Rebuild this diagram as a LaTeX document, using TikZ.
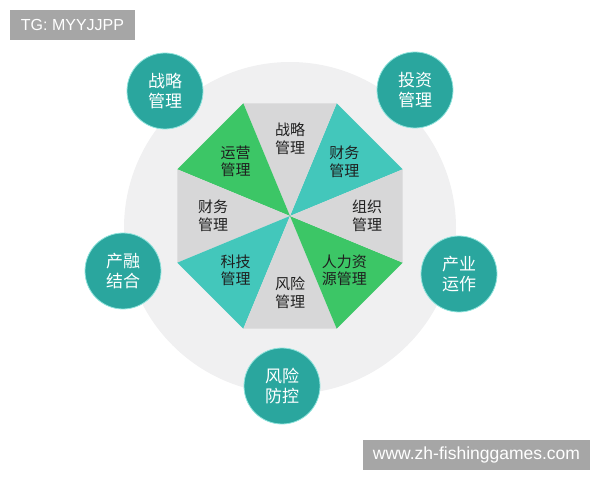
\documentclass[tikz,border=0pt]{standalone}
\usepackage{fontspec}
\setmainfont{Liberation Sans}
\newfontfamily\cjk{Noto Sans CJK SC}
\usetikzlibrary{calc}
\usetikzlibrary{positioning}

\definecolor{bgring}{HTML}{F0F0F1}
\definecolor{tealdark}{HTML}{2AA69E}
\definecolor{tealedge}{HTML}{8FE3DC}
\definecolor{tealslice}{HTML}{43C7BB}
\definecolor{greenslice}{HTML}{3CC666}
\definecolor{grayslice}{HTML}{D7D7D8}
\definecolor{tagbox}{HTML}{A6A6A6}
\definecolor{slicetext}{HTML}{1F1F1F}

\begin{document}
\begin{tikzpicture}[x=1pt,y=1pt,
    outernode/.style={circle, fill=tealdark, draw=tealedge, line width=0.8pt, minimum size=76pt, inner sep=0pt,
      text=white, align=center, font=\cjk\fontsize{17}{19.5}\selectfont},
    slicenode/.style={align=center, text=slicetext, inner sep=0pt, font=\cjk\fontsize{15}{17.5}\selectfont},
    tagnode/.style={fill=tagbox, text=white, minimum height=30pt, inner sep=0pt}]
  \useasboundingbox (0,0) rectangle (600,480);
  %Background disc
  \fill[bgring] (290,252) circle (166);
  %Octagon
  \coordinate (hub) at (290,264);
  \foreach \k/\col/\txt in {0/tealslice/财务\\管理, 1/grayslice/战略\\管理, 2/greenslice/运营\\管理,
      3/grayslice/财务\\管理, 4/tealslice/科技\\管理, 5/grayslice/风险\\管理,
      6/greenslice/人力资\\源管理, 7/grayslice/组织\\管理} {
    \fill[\col] (hub) -- ($(hub)+(22.5+45*\k:122)$) -- ($(hub)+(67.5+45*\k:122)$) -- cycle;
    \node[slicenode] (slice\k) at ($(hub)+(45+45*\k:77)$) {\txt};
  }
  %Outer circles
  \node[outernode] (strategy)  at (165,389) {战略\\管理};
  \node[outernode] (invest)    at (415,390) {投资\\管理};
  \node[outernode] (fusion)    at (123,209) {产融\\结合};
  \node[outernode] (industry)  at (459,206) {产业\\运作};
  \node[outernode] (riskctrl)  at (282,94)  {风险\\防控};
  %Tags
  \node[tagnode, minimum width=125pt, font=\fontsize{16}{18}\selectfont] (tg)  at (72.5,455) {TG: MYYJJPP};
  \node[tagnode, minimum width=227pt, font=\fontsize{17.5}{20}\selectfont] (www) at (476.5,25) {www.zh-fishinggames.com};
\end{tikzpicture}
\end{document}
